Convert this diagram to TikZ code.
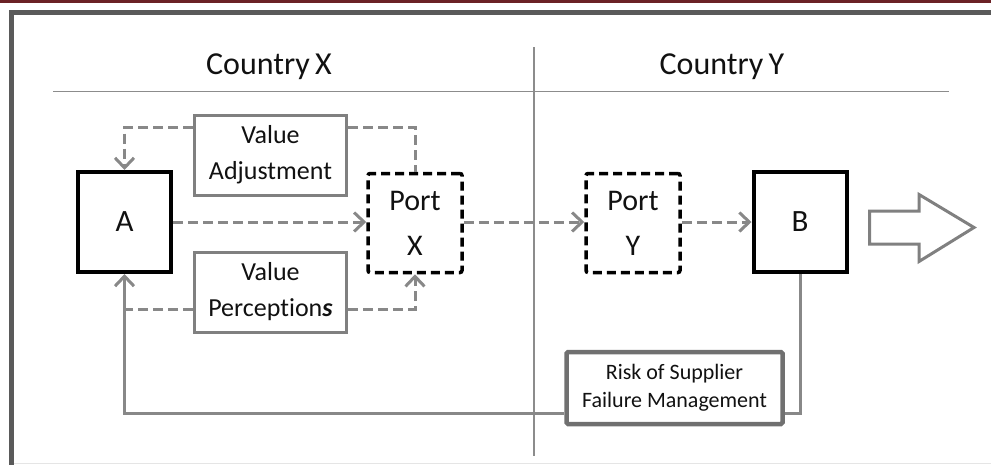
\documentclass[tikz,border=0pt]{standalone}
\usepackage{fontspec}
\setmainfont[Ligatures=NoCommon]{Carlito}
\usetikzlibrary{arrows.meta}
\definecolor{bandred}{HTML}{6B2226}
\definecolor{framegray}{HTML}{5A5A5A}
\definecolor{linegray}{HTML}{888888}
\definecolor{boxgray}{HTML}{808080}
\definecolor{riskgray}{HTML}{707070}
\definecolor{sepgray}{HTML}{8C8C8C}
\definecolor{txt}{HTML}{111111}
\begin{document}
\begin{tikzpicture}[x=1pt,y=-1pt,
  mainbox/.style={draw=black, line width=4pt, inner sep=0pt, minimum width=93pt, minimum height=100pt,
    font=\fontsize{31}{36}\selectfont, text=txt},
  portbox/.style={draw=black, line width=3.5pt, dash pattern=on 9pt off 5pt, rounded corners=2pt,
    inner sep=0pt, minimum width=94pt, minimum height=99pt, align=center,
    font=\fontsize{30}{45}\selectfont, text=txt},
  valbox/.style={draw=boxgray, line width=3pt, inner sep=0pt, minimum width=152pt, minimum height=80pt,
    align=center, font=\fontsize{26}{36}\selectfont, text=txt},
  riskbox/.style={draw=riskgray, line width=4.5pt, rounded corners=1.5pt, inner sep=0pt, minimum width=216pt,
    minimum height=72pt, align=center, font=\fontsize{22}{28}\selectfont, text=txt},
  dashline/.style={draw=linegray, line width=3pt, dash pattern=on 10pt off 5pt},
  solidline/.style={draw=linegray, line width=3pt},
  tip/.style={-{Straight Barb[length=10pt,width=19pt,line width=3pt]}},
  country/.style={font=\fontsize{32}{38}\selectfont, text=txt, inner sep=0pt},
]
\useasboundingbox (0,0) rectangle (991,464);
% top band and frame
\fill[bandred] (0,0) rectangle (991,3.2);
\draw[framegray, line width=4.5pt] (11.5,470) -- (11.5,12.5) -- (1000,12.5);
\draw[black!10, line width=1pt] (14,463) -- (991,463);
% separators
\draw[sepgray, line width=1.4pt] (53,91.5) -- (949,91.5);
\draw[sepgray, line width=1.2pt] (534,47) -- (534,456);
% headings
\node[country] (cx) at (269,67) {Country\,X};
\node[country] (cy) at (722,67) {Country\,Y};
% boxes
\node[mainbox] (A) at (124.5,222) {A};
\node[mainbox] (B) at (800,222) {B};
\node[portbox] (PX) at (415,223) {Port\\X};
\node[portbox] (PY) at (633,223) {Port\\Y};
\node[valbox] (VA) at (270.5,155) {Value\\Adjustment};
\node[valbox] (VP) at (270.5,292) {Value\\Perception\textbf{\textit{s}}};
\node[riskbox] (RK) at (674.5,388) {Risk of Supplier\\Failure Management};
% big outline arrow
\draw[boxgray, line width=3pt, line join=miter] (869.5,211) -- (919,211) -- (919,194.5) -- (974,227.5)
  -- (919,261.5) -- (919,244) -- (869.5,244) -- cycle;
% connectors
\coordinate (val) at ([yshift=28pt]VA.west);
\coordinate (var) at ([yshift=28pt]VA.east);
\coordinate (vpl) at ([yshift=-17pt]VP.west);
\coordinate (vpr) at ([yshift=-17pt]VP.east);
\coordinate (rkl) at ([yshift=-25pt]RK.west);
\coordinate (rkr) at ([yshift=-25pt]RK.east);
\draw[dashline, tip] (A.east) -- (PX.west |- A.east);
\draw[dashline, tip] (PX.east |- A.east) -- (PY.west |- A.east);
\draw[dashline, tip] (PY.east |- A.east) -- (B.west);
\draw[dashline, tip] (val) -| (A.north);
\draw[dashline] (var) -| (PX.north);
\draw[dashline] (vpl) -- (vpl -| A.south);
\draw[dashline, tip] (vpr) -| (PX.south);
\draw[solidline, tip] (rkl) -| (A.south);
\draw[solidline] (B.south) |- (rkr);
\end{tikzpicture}
\end{document}
